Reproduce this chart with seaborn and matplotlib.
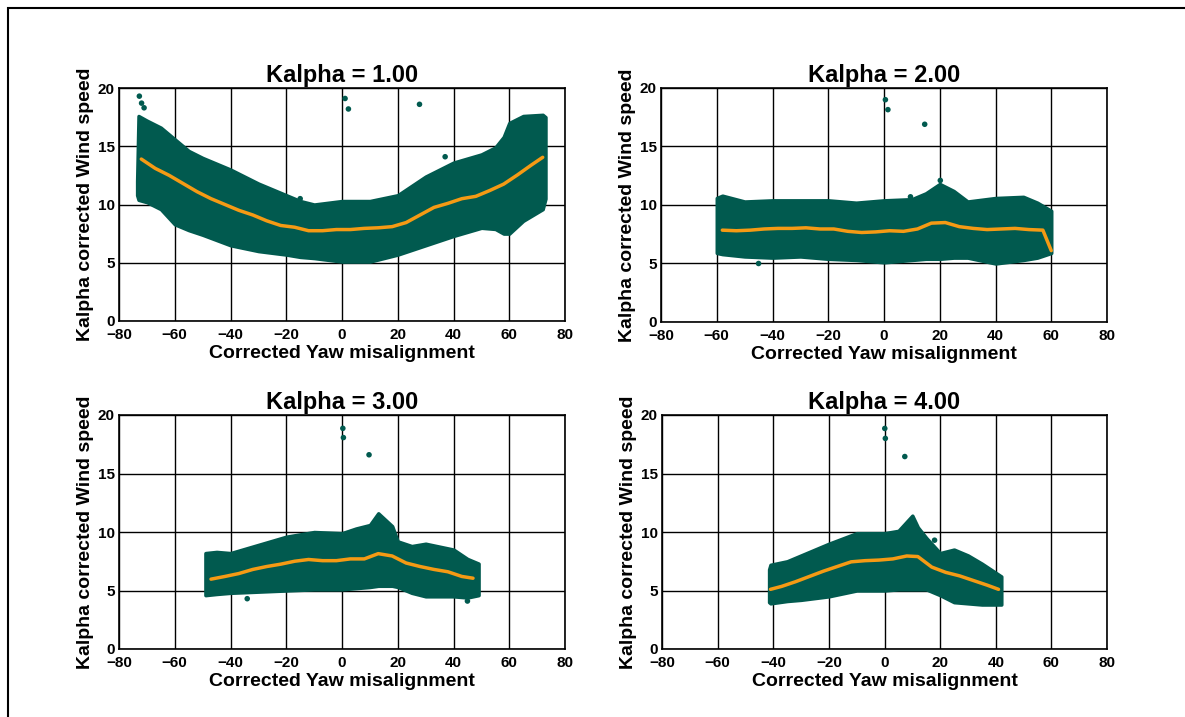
import pandas as pd
import seaborn as sns
import matplotlib.pyplot as plt
from matplotlib.patches import Rectangle

# Colours
teal = '#015a4f'
orange = '#f59a14'

# Kalpha = 1.00
k1_env_x = [-73.5, -73, -70, -65, -60, -55, -50, -40, -30, -20, -15, -10, 0, 10, 20, 30, 40, 50, 55, 58, 60, 65, 72, 73]
k1_upper = [12.0, 17.6, 17.2, 16.6, 15.6, 14.6, 14.0, 13.0, 11.8, 10.8, 10.3, 10.0, 10.3, 10.3, 10.8, 12.4, 13.6, 14.3, 14.9, 15.8, 17.0, 17.6, 17.7, 17.5]
k1_lower = [10.8, 10.4, 10.2, 9.6, 8.3, 7.8, 7.4, 6.5, 6.0, 5.7, 5.5, 5.4, 5.1, 5.1, 5.7, 6.5, 7.3, 8.0, 7.9, 7.5, 7.5, 8.6, 9.6, 10.5]
k1_mean_x = [-72, -67, -62, -57, -52, -47, -42, -37, -32, -27, -22, -17, -12, -7, -2, 3, 8, 13, 18, 23, 28, 33, 38, 43, 48, 53, 58, 63, 68, 72]
k1_mean = [13.9, 13.1, 12.5, 11.8, 11.1, 10.5, 10.0, 9.5, 9.1, 8.6, 8.2, 8.05, 7.75, 7.75, 7.85, 7.85, 7.95, 8.0, 8.1, 8.45, 9.1, 9.75, 10.1, 10.5, 10.7, 11.2, 11.75, 12.55, 13.4, 14.05]
k1_out_x = [-72.7, -71.9, -71.0, 1.1, 2.3, 27.8, -58.0, 37.0, -15.0]
k1_out_y = [19.3, 18.7, 18.3, 19.1, 18.2, 18.6, 14.9, 14.1, 10.5]

# Kalpha = 2.00
k2_env_x = [-60, -58, -50, -40, -30, -20, -10, 0, 10, 15, 20, 25, 30, 40, 50, 55, 60]
k2_upper = [10.6, 10.8, 10.3, 10.4, 10.4, 10.4, 10.2, 10.4, 10.5, 11.0, 11.8, 11.2, 10.3, 10.6, 10.7, 10.2, 9.5]
k2_lower = [5.9, 5.8, 5.6, 5.5, 5.6, 5.4, 5.3, 5.1, 5.3, 5.4, 5.4, 5.5, 5.5, 5.0, 5.3, 5.5, 5.9]
k2_mean_x = [-58, -53, -48, -43, -38, -33, -28, -23, -18, -13, -8, -3, 2, 7, 12, 17, 22, 27, 32, 37, 42, 47, 52, 57, 60]
k2_mean = [7.85, 7.8, 7.85, 7.95, 8.0, 8.0, 8.05, 7.95, 7.95, 7.75, 7.65, 7.7, 7.8, 7.75, 7.95, 8.45, 8.5, 8.15, 8.0, 7.9, 7.95, 8.0, 7.9, 7.85, 6.1]
k2_out_x = [0.5, 1.4, 14.6, 20.2, 9.5, -45.0]
k2_out_y = [19.0, 18.15, 16.9, 12.1, 10.7, 5.0]

# Kalpha = 3.00
k3_env_x = [-49, -45, -40, -30, -20, -10, 0, 5, 10, 13, 18, 20, 25, 30, 40, 45, 49]
k3_upper = [8.2, 8.3, 8.2, 8.9, 9.6, 10.0, 9.9, 10.3, 10.6, 11.6, 10.5, 9.2, 8.8, 9.0, 8.5, 7.7, 7.3]
k3_lower = [4.6, 4.7, 4.8, 4.9, 5.0, 5.1, 5.1, 5.2, 5.3, 5.4, 5.4, 5.3, 4.8, 4.5, 4.5, 4.4, 4.6]
k3_mean_x = [-47, -42, -37, -32, -27, -22, -17, -12, -7, -2, 3, 8, 13, 18, 23, 28, 33, 38, 43, 47]
k3_mean = [5.97, 6.2, 6.45, 6.8, 7.05, 7.25, 7.5, 7.65, 7.55, 7.55, 7.7, 7.7, 8.15, 7.95, 7.35, 7.05, 6.8, 6.6, 6.2, 6.05]
k3_out_x = [0.3, 0.5, 9.7, -34.0, 45.0]
k3_out_y = [18.86, 18.07, 16.6, 4.3, 4.1]

# Kalpha = 4.00
k4_env_x = [-41.5, -41, -35, -30, -20, -10, 0, 5, 10, 12, 15, 20, 25, 30, 35, 42]
k4_upper = [6.8, 7.2, 7.5, 8.0, 9.0, 9.9, 9.9, 10.1, 11.4, 10.4, 9.5, 8.2, 8.5, 8.0, 7.3, 6.2]
k4_lower = [4.0, 3.9, 4.1, 4.2, 4.5, 5.0, 5.0, 5.1, 5.1, 5.1, 5.1, 4.6, 4.0, 3.9, 3.8, 3.8]
k4_mean_x = [-41, -37, -32, -27, -22, -17, -12, -7, -2, 3, 8, 12, 17, 22, 27, 32, 37, 41]
k4_mean = [5.1, 5.35, 5.75, 6.2, 6.65, 7.05, 7.45, 7.55, 7.6, 7.7, 7.95, 7.9, 7.0, 6.55, 6.25, 5.85, 5.45, 5.1]
k4_out_x = [0.1, 0.3, 7.3, 18.0]
k4_out_y = [18.85, 18.0, 16.45, 9.3]

panels = [
    ('Kalpha = 1.00', k1_env_x, k1_upper, k1_lower, k1_mean_x, k1_mean, k1_out_x, k1_out_y),
    ('Kalpha = 2.00', k2_env_x, k2_upper, k2_lower, k2_mean_x, k2_mean, k2_out_x, k2_out_y),
    ('Kalpha = 3.00', k3_env_x, k3_upper, k3_lower, k3_mean_x, k3_mean, k3_out_x, k3_out_y),
    ('Kalpha = 4.00', k4_env_x, k4_upper, k4_lower, k4_mean_x, k4_mean, k4_out_x, k4_out_y),
]

sns.set_style('white')
plt.rcParams['font.family'] = ['Liberation Sans', 'DejaVu Sans']
plt.rcParams['font.weight'] = 'bold'
plt.rcParams['text.color'] = 'black'
plt.rcParams['axes.labelcolor'] = 'black'
plt.rcParams['xtick.color'] = 'black'
plt.rcParams['ytick.color'] = 'black'

fig = plt.figure(figsize=(11.85, 7.17), dpi=100)

# frame around the figure (only left and top edges fall inside the picture)
fig.patches.append(Rectangle((8 / 1185, -0.05), 1.1, 1 - 8 / 717 + 0.05,
                             transform=fig.transFigure, fill=False,
                             edgecolor='black', linewidth=1.5))

W, H = 1185, 717
positions = [
    (119 / W, (H - 321) / H, 446 / W, 233 / H),
    (661 / W, (H - 322) / H, 446 / W, 234 / H),
    (119 / W, (H - 649) / H, 446 / W, 234 / H),
    (662 / W, (H - 649) / H, 445 / W, 234 / H),
]

for pos, (title, ex, up, lo, mx, my, ox, oy) in zip(positions, panels):
    ax = fig.add_axes(pos)
    ax.set_axisbelow(True)
    ax.grid(True, color='black', linewidth=1, zorder=0)

    env = pd.DataFrame({'x': ex, 'upper': up, 'lower': lo})
    ax.fill_between(env['x'], env['lower'], env['upper'], color=teal,
                    edgecolor=teal, linewidth=2.5, joinstyle='round', zorder=2)

    out = pd.DataFrame({'x': ox, 'y': oy})
    sns.scatterplot(data=out, x='x', y='y', ax=ax, color=teal, s=16,
                    edgecolor='none', zorder=3)

    mean = pd.DataFrame({'x': mx, 'y': my})
    sns.lineplot(data=mean, x='x', y='y', ax=ax, color=orange,
                 linewidth=2.5, zorder=4)

    ax.set_xlim(-80, 80)
    ax.set_ylim(0, 20)
    ax.set_xticks(range(-80, 81, 20))
    ax.set_yticks(range(0, 21, 5))
    ax.tick_params(length=0, labelsize=11)
    ax.tick_params(axis='x', pad=5)
    ax.tick_params(axis='y', pad=3)
    for lab in ax.get_xticklabels() + ax.get_yticklabels():
        lab.set_fontweight('bold')
    for sp in ax.spines.values():
        sp.set_color('black')
        sp.set_linewidth(1.2)
    ax.set_title(title, fontsize=17, fontweight='bold', pad=4)
    ax.set_xlabel('Corrected Yaw misalignment', fontsize=14, fontweight='bold', labelpad=2)
    ax.set_ylabel('Kalpha corrected Wind speed', fontsize=14, fontweight='bold', labelpad=3)

fig.savefig('out.png', dpi=100)
